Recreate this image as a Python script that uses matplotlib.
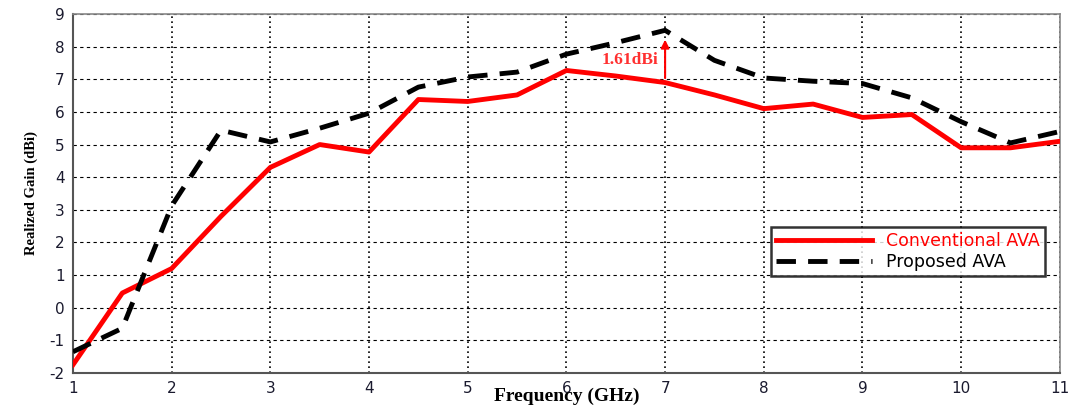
import matplotlib.pyplot as plt

plt.rcParams['axes.unicode_minus'] = False

# frequency points (GHz)
freq = [1, 1.5, 2, 2.5, 3, 3.5, 4, 4.5, 5, 5.5, 6, 6.5, 7, 7.5, 8, 8.5, 9, 9.5, 10, 10.5, 11]
# realized gain (dBi)
gain_conv = [-1.75, 0.45, 1.2, 2.8, 4.3, 5.0, 4.77, 6.38, 6.32, 6.52, 7.27, 7.1, 6.9, 6.52, 6.1, 6.24, 5.83, 5.92, 4.9, 4.9, 5.1]
gain_prop = [-1.35, -0.63, 3.12, 5.44, 5.08, 5.5, 5.96, 6.76, 7.07, 7.22, 7.77, 8.12, 8.5, 7.58, 7.04, 6.94, 6.87, 6.43, 5.7, 5.05, 5.4]

fig = plt.figure(figsize=(10.76, 4.12), dpi=100)
ax = fig.add_axes([0.0678, 0.0947, 0.9172, 0.8713])

ax.plot(freq, gain_conv, color='#ff0000', lw=3.5, label='Conventional AVA', zorder=3)
ax.plot(freq, gain_prop, color='black', lw=3.5, ls=(0, (4, 2.5)), label='Proposed AVA', zorder=3)

ax.set_xlim(1, 11)
ax.set_ylim(-2, 9)
ax.set_xticks(range(1, 12))
ax.set_yticks(range(-2, 10))
ax.tick_params(labelsize=11, colors='#1a1a2e', length=0, pad=6)

# grid: dotted verticals, dashed horizontals
ax.xaxis.grid(True, ls=(0, (1, 2)), color='black', lw=1.2)
ax.yaxis.grid(True, ls=(0, (3, 3)), color='black', lw=0.8)

for side in ['top', 'right']:
    ax.spines[side].set_color('#888888')
    ax.spines[side].set_linewidth(1.2)
for side in ['left', 'bottom']:
    ax.spines[side].set_color('#555555')
    ax.spines[side].set_linewidth(1.5)

ax.set_xlabel('Frequency (GHz)', family='Liberation Serif', fontweight='bold', fontsize=14, labelpad=-6)
ax.set_ylabel('Realized Gain (dBi)', family='Liberation Serif', fontweight='bold', fontsize=10.5,
              labelpad=8)

# gain improvement annotation at 7 GHz
ax.annotate('', xy=(7, 8.3), xytext=(7, 6.95),
            arrowprops=dict(arrowstyle='-|>', color='#ff0000', lw=1.5, mutation_scale=12))
ax.text(6.93, 7.6, '1.61dBi', color='#ff3030', family='Liberation Serif', fontweight='bold',
        fontsize=12.5, ha='right', va='center')

leg = ax.legend(loc='lower right', bbox_to_anchor=(0.99, 0.255), fontsize=12.5, frameon=True,
                fancybox=False, edgecolor='black', handlelength=5.5, borderpad=0.3,
                labelspacing=0.15, handletextpad=0.8, borderaxespad=0.3)
leg.get_frame().set_linewidth(1.8)
leg.get_texts()[0].set_color('#ff0000')

fig.savefig('out.png', dpi=100)
